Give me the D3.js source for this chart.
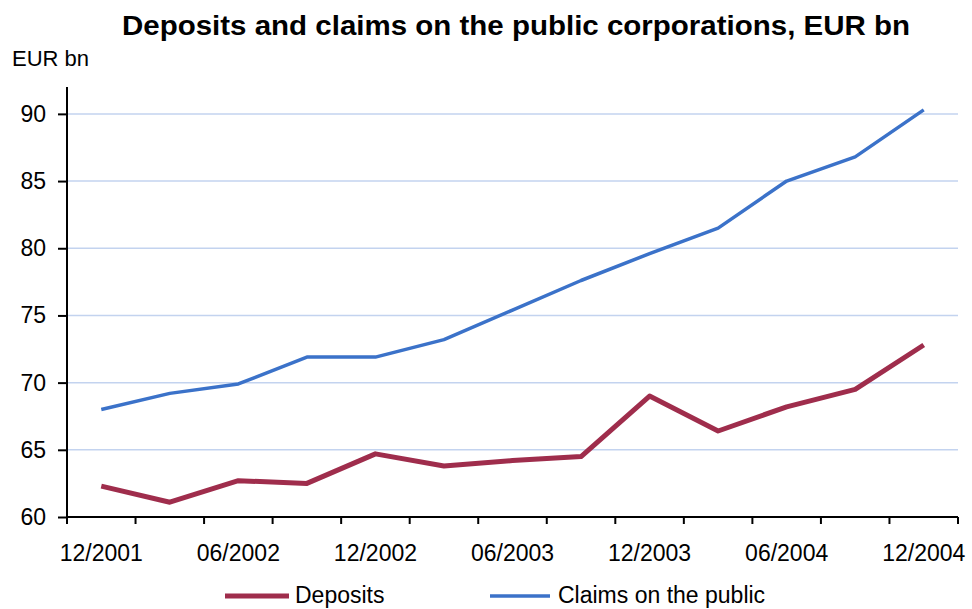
<!DOCTYPE html>
<html><head><meta charset="utf-8">
<script src="https://cdn.jsdelivr.net/npm/d3@7"></script>
<style>body{margin:0;background:#fff}svg{display:block}text{font-family:"Liberation Sans",Arial,sans-serif}</style>
</head><body>
<svg id="c" width="972" height="609"></svg>
<script>
const categories = ["12/2001","03/2002","06/2002","09/2002","12/2002","03/2003","06/2003","09/2003","12/2003","03/2004","06/2004","09/2004","12/2004"];
const deposits = [62.3,61.1,62.7,62.5,64.7,63.8,64.2,64.5,69.0,66.4,68.2,69.5,72.8];
const claims = [68.0,69.2,69.9,71.9,71.9,73.2,75.4,77.6,79.6,81.5,85.0,86.8,90.3];
const yTicks = [60,65,70,75,80,85,90];
const seriesNames = ["Deposits","Claims on the public"];
const seriesColors = ["#9f2d4c","#3b72c9"];

const svg = d3.select("#c");
const L = 67, R = 958, T = 87, B = 517;
const FS = 23;
const x = d3.scaleBand().domain(categories).range([L, R]).padding(0);
const y = d3.scaleLinear().domain([60, 92]).range([B, T]);
const cx = c => x(c) + x.bandwidth()/2;

svg.append("text").attr("x", 122).attr("y", 35)
  .attr("font-size", 28).attr("font-weight","bold").attr("fill","#000")
  .attr("textLength", 788).attr("lengthAdjust","spacingAndGlyphs")
  .text("Deposits and claims on the public corporations, EUR bn");
svg.append("text").attr("x", 12).attr("y", 66).attr("font-size", 22).attr("fill","#000").text("EUR bn");

// gridlines
svg.append("g").selectAll("line").data(yTicks.filter(v => v > 60)).join("line")
  .attr("x1", L).attr("x2", R).attr("y1", d => y(d)).attr("y2", d => y(d))
  .attr("stroke", "#c3d3ef").attr("stroke-width", 1.5);

// y axis
const ya = svg.append("g").attr("transform", `translate(${L},0)`)
  .call(d3.axisLeft(y).tickValues(yTicks).tickSize(9).tickPadding(12));
ya.select(".domain").attr("d", `M0,${T}V${B}`).attr("stroke","#000").attr("stroke-width",2);
ya.selectAll(".tick line").attr("stroke","#000").attr("stroke-width",2);
ya.selectAll(".tick text").attr("font-size", FS).attr("fill","#000").attr("font-family",'"Liberation Sans",Arial,sans-serif');

// x axis
const xa = svg.append("g").attr("transform", `translate(0,${B})`)
  .call(d3.axisBottom(x).tickSize(0).tickFormat((d,i) => i % 2 === 0 ? d : ""));
xa.select(".domain").attr("d", `M${L},0H${R}`).attr("stroke","#000").attr("stroke-width",2);
xa.selectAll(".tick text").attr("font-size", FS).attr("fill","#000").attr("y", 44).attr("dy", 0)
  .attr("font-family",'"Liberation Sans",Arial,sans-serif');
// tick marks at band boundaries
svg.append("g").selectAll("line").data(categories.map(c => x(c)).concat([R])).join("line")
  .attr("x1", d => d).attr("x2", d => d).attr("y1", B).attr("y2", B + 7)
  .attr("stroke","#000").attr("stroke-width",2);

const line = d3.line().x((d,i) => cx(categories[i])).y(d => y(d));
svg.append("path").datum(claims).attr("d", line).attr("fill","none")
  .attr("stroke", seriesColors[1]).attr("stroke-width", 3.5).attr("stroke-linejoin","round");
svg.append("path").datum(deposits).attr("d", line).attr("fill","none")
  .attr("stroke", seriesColors[0]).attr("stroke-width", 5).attr("stroke-linejoin","round");

// legend
const leg = [{x1:225,x2:289,tx:295,w:5},{x1:490,x2:550,tx:558,w:3.5}];
seriesNames.forEach((n,i) => {
  svg.append("line").attr("x1", leg[i].x1).attr("x2", leg[i].x2).attr("y1", 596).attr("y2", 596)
    .attr("stroke", seriesColors[i]).attr("stroke-width", leg[i].w);
  svg.append("text").attr("x", leg[i].tx).attr("y", 603).attr("font-size", FS).attr("fill","#000").text(n);
});
</script>
</body></html>
